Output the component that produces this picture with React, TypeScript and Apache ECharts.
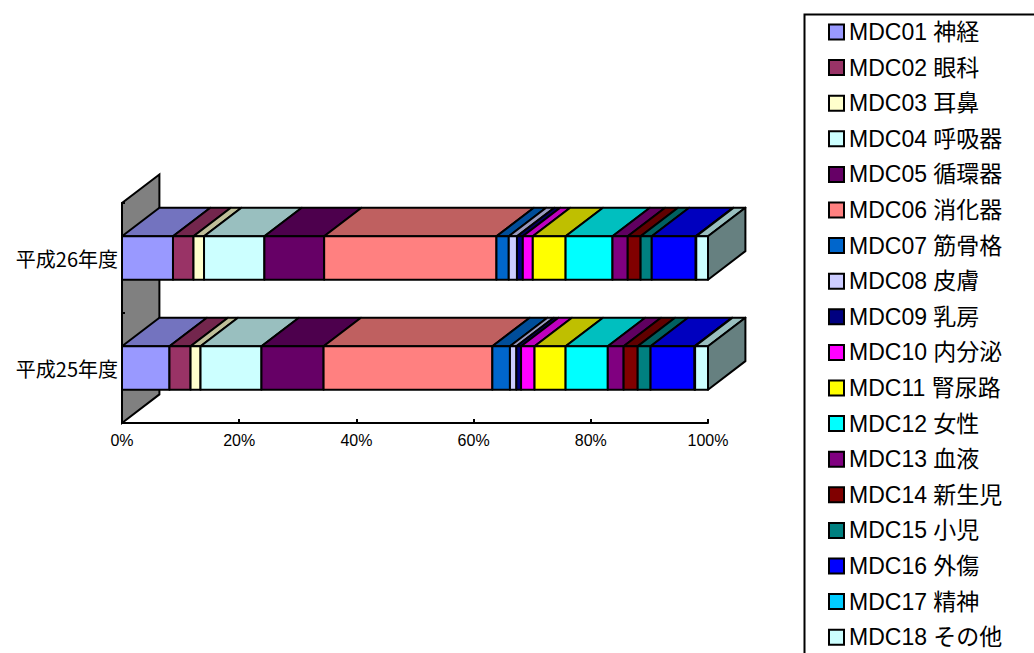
import React, { useEffect, useRef } from "react";
import * as echarts from "echarts";

const categories = ["平成25年度", "平成26年度"];
const seriesNames = [
  "MDC01 神経", "MDC02 眼科", "MDC03 耳鼻", "MDC04 呼吸器", "MDC05 循環器", "MDC06 消化器",
  "MDC07 筋骨格", "MDC08 皮膚", "MDC09 乳房", "MDC10 内分泌", "MDC11 腎尿路", "MDC12 女性",
  "MDC13 血液", "MDC14 新生児", "MDC15 小児", "MDC16 外傷", "MDC17 精神", "MDC18 その他",
];
const colors = [
  "#9999FF", "#993366", "#FFFFCC", "#CCFFFF", "#660066", "#FF8080",
  "#0066CC", "#CCCCFF", "#000080", "#FF00FF", "#FFFF00", "#00FFFF",
  "#800080", "#800000", "#008080", "#0000FF", "#00CCFF", "#CCFFFF",
];
// percentage share per series: [平成25年度, 平成26年度]
const values25 = [8.1, 3.6, 1.7, 10.4, 10.6, 28.8, 3.0, 1.1, 0.8, 2.3, 5.3, 7.2, 2.7, 2.4, 2.2, 7.5, 0.1, 2.2];
const values26 = [8.7, 3.5, 1.8, 10.3, 10.2, 29.4, 2.1, 1.4, 1.0, 1.7, 5.6, 8.0, 2.6, 2.2, 1.9, 7.5, 0.1, 2.0];
const xTicks = [0, 20, 40, 60, 80, 100];

function shade(hex: string, f: number) {
  const n = parseInt(hex.slice(1), 16);
  const r = Math.round(((n >> 16) & 255) * f);
  const g = Math.round(((n >> 8) & 255) * f);
  const b = Math.round((n & 255) * f);
  return `rgb(${r},${g},${b})`;
}

const LATIN = "'Liberation Sans', 'Noto Sans CJK JP', sans-serif";

export default function App() {
  const ref = useRef<HTMLDivElement>(null);
  useEffect(() => {
    if (!ref.current) return;
    const chart = echarts.init(ref.current, undefined, { renderer: "svg" });
    const perCat = [values25, values26];
    const totals = perCat.map((v) => v.reduce((a, b) => a + b, 0));
    const cum = perCat.map(() => 0);
    const DEPTH_X = 0.34;
    const DEPTH_Y = 0.26;
    const BAR = 0.395;
    const lastIdx = seriesNames.length - 1;

    const barSeries = seriesNames.map((name, i) => {
      const data = categories.map((_, j) => {
        const v = (perCat[j][i] / totals[j]) * 100;
        const s = cum[j];
        cum[j] += v;
        return [s, cum[j], j];
      });
      return {
        type: "custom",
        name,
        coordinateSystem: "cartesian2d",
        clip: false,
        z: 2,
        itemStyle: { color: colors[i] },
        encode: { x: [0, 1], y: 2 },
        data,
        renderItem: (params: any, api: any) => {
          const s = api.value(0);
          const e = api.value(1);
          const c = api.value(2);
          const p0 = api.coord([s, c]);
          const p1 = api.coord([e, c]);
          const band = api.size([0, 1])[1];
          const h = band * BAR;
          const dx = band * DEPTH_X;
          const dy = band * DEPTH_Y;
          const x0 = p0[0];
          const x1 = p1[0];
          const yT = p0[1] - h / 2;
          const yB = p0[1] + h / 2;
          const stroke = { stroke: "#000", lineWidth: 2, lineJoin: "round" };
          const children: any[] = [
            {
              type: "polygon",
              shape: { points: [[x0, yT], [x1, yT], [x1 + dx, yT - dy], [x0 + dx, yT - dy]] },
              style: { fill: shade(colors[i], 0.75), ...stroke },
            },
            {
              type: "rect",
              shape: { x: x0, y: yT, width: x1 - x0, height: yB - yT },
              style: { fill: colors[i], ...stroke },
            },
          ];
          if (i === lastIdx) {
            children.push({
              type: "polygon",
              shape: { points: [[x1, yT], [x1 + dx, yT - dy], [x1 + dx, yB - dy], [x1, yB]] },
              style: { fill: shade(colors[i], 0.5), ...stroke },
            });
          }
          return { type: "group", children };
        },
      };
    });

    const wallSeries = {
      type: "custom",
      name: "wall",
      coordinateSystem: "cartesian2d",
      clip: false,
      z: 1,
      silent: true,
      data: [[0, 0, 0]],
      encode: { x: 0, y: 2 },
      renderItem: (params: any, api: any) => {
        const cs = params.coordSys;
        const band = api.size([0, 1])[1];
        const dx = band * DEPTH_X;
        const dy = band * DEPTH_Y;
        const x = cs.x;
        const top = cs.y;
        const bot = cs.y + cs.height;
        return {
          type: "polygon",
          shape: { points: [[x, bot], [x + dx, bot - dy], [x + dx, top - dy], [x, top]] },
          style: { fill: "#808080", stroke: "#000", lineWidth: 2 },
        };
      },
    };

    chart.setOption({
      animation: false,
      backgroundColor: "#fff",
      grid: { left: 122, right: 326, top: 203, bottom: 230, containLabel: false },
      xAxis: {
        type: "value",
        min: 0,
        max: 100,
        interval: 20,
        axisLine: { show: true, lineStyle: { color: "#000", width: 2 } },
        axisTick: { show: true, inside: true, length: 4, lineStyle: { color: "#000", width: 2 } },
        splitLine: { show: false },
        axisLabel: {
          formatter: (v: number) => (xTicks.includes(v) ? `${v}%` : ""),
          color: "#000",
          fontSize: 16,
          fontFamily: LATIN,
          margin: 9,
        },
      },
      yAxis: {
        type: "category",
        data: categories,
        z: 3,
        axisLine: { show: true, lineStyle: { color: "#000", width: 2 } },
        axisTick: { show: true, inside: true, length: 3, lineStyle: { color: "#000", width: 2 } },
        axisLabel: {
          color: "#000",
          fontSize: 20,
          fontFamily: "'Noto Sans CJK JP', sans-serif",
          margin: 4,
        },
      },
      legend: {
        orient: "vertical",
        left: 828,
        top: 20.5,
        padding: 0,
        itemWidth: 15,
        itemHeight: 15,
        itemGap: 12.6,
        icon: "rect",
        data: seriesNames,
        itemStyle: { borderColor: "#000", borderWidth: 2 },
        textStyle: {
          color: "#000",
          fontSize: 23,
          lineHeight: 23,
          fontFamily: LATIN,
        },
        selectedMode: false,
      },
      graphic: [
        {
          type: "rect",
          left: 802,
          top: 12,
          shape: { width: 260, height: 680 },
          style: { fill: "none", stroke: "#000", lineWidth: 2 },
          z: 0,
        },
      ],
      series: [wallSeries, ...barSeries],
    });
    return () => chart.dispose();
  }, []);
  return (
    <div
      ref={ref}
      style={{ position: "fixed", left: 0, top: 0, width: 1034, height: 653, background: "#fff" }}
    />
  );
}
